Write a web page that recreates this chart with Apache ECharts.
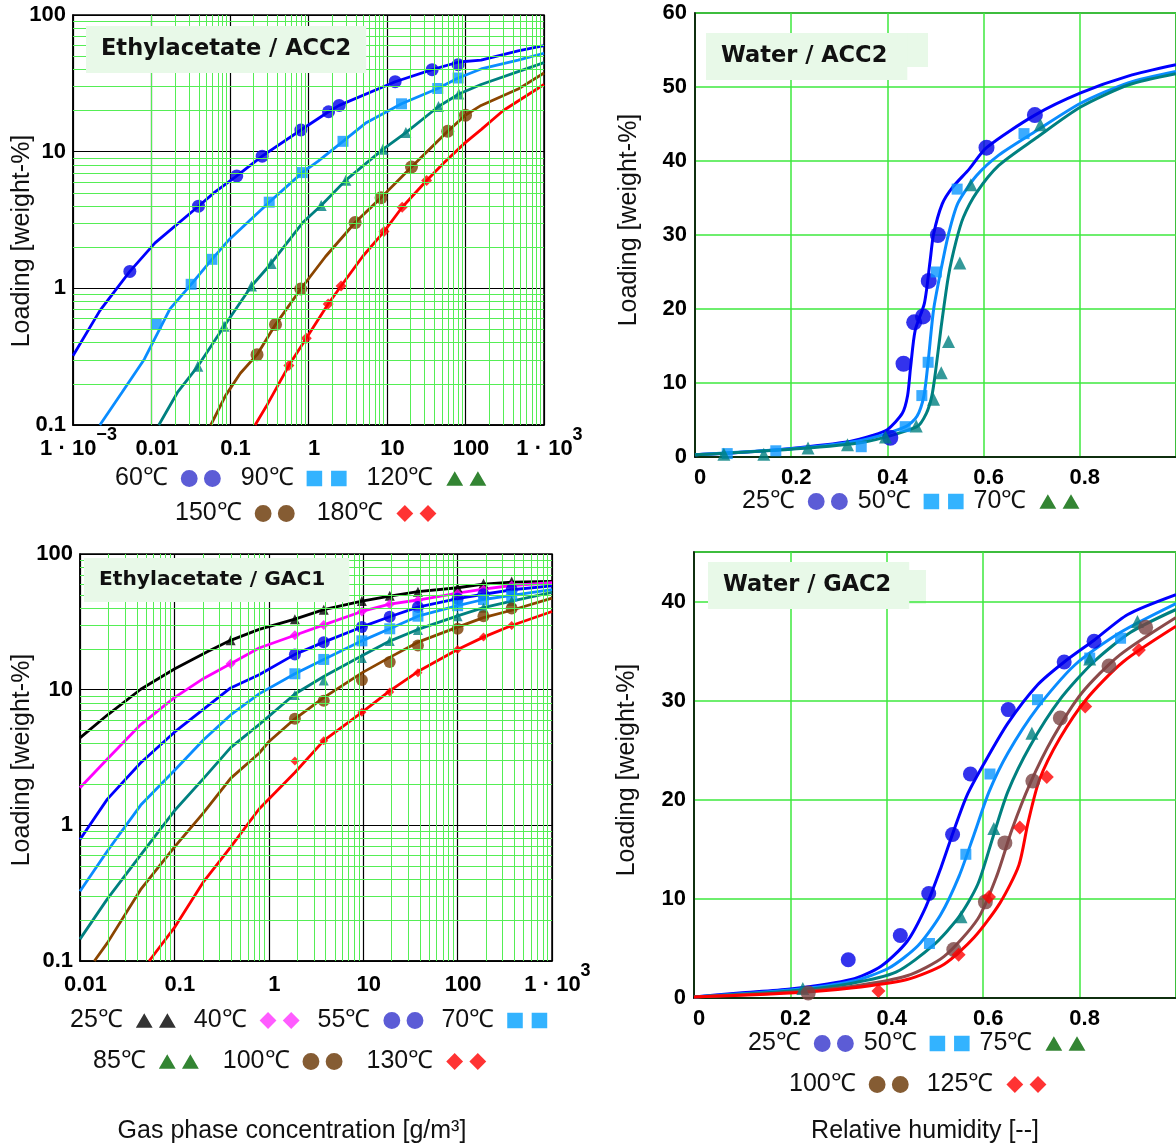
<!DOCTYPE html>
<html>
<head>
<meta charset="utf-8">
<script src="https://cdn.jsdelivr.net/npm/echarts@6/dist/echarts.min.js"></script>
<style>
  html, body { margin: 0; padding: 0; background: #fff; }
  #chart { width: 1176px; height: 1146px; }
</style>
</head>
<body>
<div id="chart"></div>
<script>
// ---- Ethylacetate / ACC2 (log-log) : [g/m3, weight-%]
const eaAcc60Pts = [[0.0053,1.33],[0.0397,3.99],[0.122,6.64],[0.257,9.27],[0.80,14.4],[1.80,19.6],[2.46,21.8],[12.7,32.5],[37.6,39.8],[80.5,43.3]];
const eaAcc60Fit = [[0.001,0.321],[0.0022,0.687],[0.0053,1.33],[0.0111,2.15],[0.0397,3.99],[0.0634,5.04],[0.122,6.64],[0.257,9.27],[0.80,14.4],[1.80,19.6],[2.46,21.8],[12.7,32.5],[37.6,39.8],[82,45.3],[158,46.7],[468,54.7],[1000,59.7]];
const eaAcc90Pts = [[0.0115,0.55],[0.032,1.07],[0.0588,1.63],[0.316,4.27],[0.832,7.03],[2.75,11.9],[15.3,22.4],[44.3,29.0],[80.5,34.6]];
const eaAcc90Fit = [[0.0022,0.1],[0.0042,0.173],[0.0081,0.303],[0.0172,0.708],[0.032,1.07],[0.0588,1.63],[0.098,2.28],[0.316,4.27],[0.832,7.03],[1.33,8.54],[2.75,11.9],[5.44,16.3],[15.3,22.4],[44.3,29.0],[80.5,34.6],[158,40.3],[468,46.7],[1000,52.5]];
const eaAcc120Pts = [[0.0389,0.269],[0.0841,0.528],[0.188,1.04],[0.334,1.52],[1.45,4.04],[2.99,6.19],[8.87,10.4],[17.4,13.8],[45.3,21.4],[82.2,26.4]];
const eaAcc120Fit = [[0.0124,0.1],[0.0214,0.173],[0.0389,0.269],[0.0841,0.528],[0.188,1.04],[0.334,1.52],[0.859,3.06],[1.45,4.04],[2.99,6.19],[8.87,10.4],[17.4,13.8],[45.3,21.4],[82.2,26.4],[158,31.0],[468,38.5],[1000,44.8]];
const eaAcc150Pts = [[0.221,0.327],[0.380,0.543],[0.796,0.989],[3.93,3.03],[8.41,4.61],[20.5,7.72],[59.4,14.1],[100,18.5]];
const eaAcc150Fit = [[0.0569,0.1],[0.0877,0.164],[0.1355,0.239],[0.221,0.327],[0.38,0.543],[0.796,0.989],[1.65,1.71],[3.93,3.03],[8.41,4.61],[20.5,7.72],[59.4,14.1],[100,18.5],[158,21.8],[468,28.7],[1000,37.6]];
const eaAcc180Pts = [[0.562,0.272],[0.937,0.431],[1.78,0.768],[2.60,1.04],[9.16,2.60],[15.6,3.92],[32.0,6.15]];
const eaAcc180Fit = [[0.209,0.1],[0.29,0.137],[0.562,0.272],[0.937,0.431],[1.78,0.768],[2.6,1.04],[4.89,1.71],[9.16,2.6],[15.6,3.92],[32,6.15],[53.2,8.29],[96.8,11.5],[158,14.5],[303,20],[1000,31.0]];

// ---- Water / ACC2 : [relative humidity, weight-%]
const wAcc25Pts = [[0.406,2.6],[0.4335,12.6],[0.4557,18.2],[0.474,19.0],[0.486,23.8],[0.505,30.0],[0.606,41.8],[0.7066,46.2]];
const wAcc25Fit = [[0,0.3],[0.09,0.6],[0.2,1.16],[0.322,2.1],[0.369,2.9],[0.4,3.7],[0.431,5.9],[0.442,8.3],[0.448,12.0],[0.4577,17.1],[0.477,20.8],[0.4886,26.4],[0.496,30.1],[0.514,34.2],[0.535,36.4],[0.57,38.9],[0.606,41.8],[0.7066,46.2],[0.8017,49.2],[0.902,51.5],[1.0,53.0]];
const wAcc50Pts = [[0.067,0.46],[0.168,0.84],[0.3456,1.39],[0.437,4.1],[0.4716,8.3],[0.4847,12.8],[0.5017,25.0],[0.545,36.2],[0.684,43.7]];
const wAcc50Fit = [[0,0.3],[0.2,1.1],[0.35,2.3],[0.438,4.1],[0.4615,5.5],[0.476,8.3],[0.4847,12.9],[0.496,19.9],[0.512,25.5],[0.527,30.1],[0.5466,34.3],[0.585,38.0],[0.6316,40.8],[0.709,44.05],[0.8017,47.8],[0.902,50.6],[1.0,52.1]];
const wAcc70Pts = [[0.06,0.37],[0.143,0.37],[0.235,1.2],[0.317,1.67],[0.396,2.7],[0.46,4.2],[0.496,7.8],[0.512,11.4],[0.527,15.6],[0.5505,26.2],[0.5736,36.8],[0.718,44.9]];
const wAcc70Fit = [[0,0.3],[0.2,1.05],[0.35,2.0],[0.4615,4.1],[0.481,5.9],[0.4925,8.3],[0.5,11.5],[0.5118,17.6],[0.527,24.5],[0.543,29.2],[0.558,32.4],[0.585,35.7],[0.6316,39.4],[0.709,43.1],[0.8017,47.3],[0.902,50.3],[1.0,51.8]];

// ---- Ethylacetate / GAC1 (log-log)
const eaGac25Pts = [[0.394,23.1],[1.89,33.1],[3.82,38.9],[9.68,45.0],[19.1,49.2],[38.0,52.8],[100,56.4],[188,60.5],[374,62.6]];
const eaGac25Fit = [[0.01,4.41],[0.0195,6.5],[0.044,10.07],[0.1,14.2],[0.223,19.05],[0.394,23.1],[0.789,27.8],[1.89,33.1],[3.82,38.9],[9.68,45.0],[19.1,48.9],[38,52.8],[100,56.4],[188,60.0],[374,62.0],[1000,62.8]];
const eaGac40Pts = [[0.394,15.5],[1.89,25.2],[3.82,30.0],[9.68,37.7],[19.1,42.7],[38.0,45.5],[100,51.0],[188,54.6],[374,58.6]];
const eaGac40Fit = [[0.01,1.89],[0.0195,3.08],[0.044,5.53],[0.1,8.73],[0.204,12.1],[0.394,15.5],[0.789,20.3],[1.89,25.2],[3.82,30.0],[9.68,37.7],[19.1,42.7],[38,45.8],[100,51.5],[188,55.0],[374,58.6],[1000,61.4]];
const eaGac55Pts = [[1.89,18.2],[3.82,22.4],[9.68,29.0],[19.1,34.5],[38.0,40.6],[100,46.8],[188,50.5],[374,54.5]];
const eaGac55Fit = [[0.01,0.786],[0.0195,1.56],[0.044,2.89],[0.1,4.86],[0.204,7.18],[0.394,10.3],[0.789,12.9],[1.89,18.2],[3.82,22.4],[9.68,29.0],[19.1,34.5],[38,40.6],[100,46.8],[188,50.5],[374,54.5],[1000,58.3]];
const eaGac70Pts = [[1.89,13.1],[3.82,16.7],[9.68,22.9],[19.1,28.1],[38.0,34.8],[100,41.6],[188,46.2],[374,49.0]];
const eaGac70Fit = [[0.01,0.327],[0.0195,0.647],[0.044,1.41],[0.1,2.54],[0.204,4.27],[0.394,6.51],[0.789,9.31],[1.89,13.1],[3.82,16.7],[9.68,22.9],[19.1,28.1],[38,34.8],[100,41.6],[188,46.2],[374,49.5],[1000,54.6]];
const eaGac85Pts = [[1.89,9.12],[3.82,11.7],[9.68,17.1],[19.1,22.8],[38.0,27.5],[100,34.8],[188,40.2],[374,45.0]];
const eaGac85Fit = [[0.01,0.145],[0.0195,0.287],[0.044,0.606],[0.1,1.28],[0.204,2.22],[0.394,3.74],[0.789,5.53],[1.89,9.3],[3.82,12.5],[9.68,17.8],[19.1,22.8],[38,27.8],[100,35],[188,40.2],[374,45],[1000,52.2]];
const eaGac100Pts = [[1.89,6.1],[3.82,8.28],[9.68,11.8],[19.1,16.0],[38.0,21.2],[100,28.1],[188,34.8],[374,39.6]];
const eaGac100Fit = [[0.0142,0.1],[0.0195,0.136],[0.044,0.337],[0.1,0.69],[0.204,1.24],[0.394,2.22],[0.789,3.4],[1,4.13],[1.89,6.1],[3.82,8.73],[9.68,13.3],[19.1,17.3],[38,22.4],[100,28.9],[188,34],[374,38.5],[1000,47.3]];
const eaGac130Pts = [[1.89,2.98],[3.82,4.21],[9.68,6.81],[19.1,9.62],[38.0,13.3],[100,19.8],[188,24.4],[374,29.7]];
const eaGac130Fit = [[0.054,0.1],[0.1,0.176],[0.204,0.385],[0.394,0.69],[0.789,1.32],[1.89,2.45],[3.82,4.21],[9.68,6.81],[19.1,9.8],[38,13.6],[100,19.8],[188,24.4],[374,29.7],[1000,37.7]];

// ---- Water / GAC2
const wGac25Pts = [[0.32,3.86],[0.428,6.3],[0.487,10.55],[0.5365,16.5],[0.5735,22.6],[0.652,29.1],[0.768,33.9],[0.83,36.0]];
const wGac25Fit = [[0,0.1],[0.094,0.5],[0.2,0.9],[0.326,1.86],[0.388,3.2],[0.442,5.7],[0.481,9.2],[0.512,13.1],[0.539,16.9],[0.566,20.4],[0.6,23.5],[0.651,27.7],[0.713,31.6],[0.768,33.9],[0.83,36.1],[0.9,38.7],[1.0,40.7]];
const wGac50Pts = [[0.4885,5.5],[0.564,14.5],[0.614,22.6],[0.7127,30.1],[0.821,34.3],[0.885,36.3]];
const wGac50Fit = [[0,0.1],[0.2,0.8],[0.326,1.66],[0.4035,3.0],[0.465,5.3],[0.5117,8.4],[0.55,12.3],[0.581,16.5],[0.612,20.8],[0.651,24.7],[0.7127,29.3],[0.79,33.6],[0.885,36.9],[1.0,39.8]];
const wGac75Pts = [[0.2257,0.97],[0.554,8.2],[0.622,17.1],[0.701,26.7],[0.821,34.2],[0.92,38.0]];
const wGac75Fit = [[0,0.1],[0.2,0.7],[0.326,1.47],[0.419,2.6],[0.496,5.3],[0.55,8.2],[0.589,11.5],[0.62,16.2],[0.651,20.8],[0.697,25.4],[0.759,30.1],[0.829,33.9],[0.906,36.9],[1.0,39.2]];
const wGac100Pts = [[0.237,0.5],[0.539,4.9],[0.6045,9.7],[0.645,15.65],[0.703,21.9],[0.76,28.25],[0.861,33.5],[0.937,37.4]];
const wGac100Fit = [[0,0.1],[0.2,0.58],[0.326,1.16],[0.442,2.24],[0.519,4.2],[0.589,8.0],[0.628,12.3],[0.659,16.9],[0.697,21.6],[0.744,26.2],[0.805,30.8],[0.883,34.6],[1.0,38.4]];
const wGac125Pts = [[0.3826,0.7],[0.549,4.37],[0.612,10.2],[0.676,17.2],[0.732,22.3],[0.8116,29.4],[0.923,35.1]];
const wGac125Fit = [[0,0.1],[0.2,0.5],[0.326,1.0],[0.442,1.86],[0.519,3.4],[0.581,6.1],[0.635,9.6],[0.674,13.4],[0.693,17.7],[0.7165,22.0],[0.759,26.2],[0.8133,30.1],[0.89,33.9],[1.0,37.5]];

// tick labels of the log axes
const logXLabels = { '-3': '{p|1 · 10}{s|−3}', '-2': '{p|0.01}', '-1': '{p|0.1}', '0': '{p|1}', '1': '{p|10}', '2': '{p|100}', '3': '{p|1 · 10}{s|3}' };
const logYLabels = { '-1': '0.1', '0': '1', '1': '10', '2': '100' };

const FONT = '"Liberation Sans", Arial, Helvetica, sans-serif';
const TITLE_FONT = '"DejaVu Sans", Verdana, sans-serif';
const GRID_GREEN = '#3ee83e';
const MINOR_GREEN = '#55ee55';

// legend icons: two symbols side by side
const ICON = {
  circle: 'path://M0,8a8,8 0 1,0 16,0a8,8 0 1,0 -16,0M22,8a8,8 0 1,0 16,0a8,8 0 1,0 -16,0',
  rect: 'path://M1,1h14v14h-14zM23,1h14v14h-14z',
  triangle: 'path://M8,1L16,15H0zM30,1L38,15H22z',
  diamond: 'path://M8,0L16,8L8,16L0,8zM30,0L38,8L30,16L22,8z'
};

const chart = echarts.init(document.getElementById('chart'), null, { renderer: 'canvas' });

const series = [];
function fit(data, color, idx, width, smooth) {
  series.push({
    type: 'line', name: '_fit', data, xAxisIndex: idx, yAxisIndex: idx,
    showSymbol: false, symbol: 'none', smooth: smooth || false,
    lineStyle: { color, width: width || 2.8 }, silent: true, z: 3
  });
}
function pts(name, data, color, symbol, size, idx) {
  series.push({
    type: 'scatter', name, data, xAxisIndex: idx, yAxisIndex: idx,
    symbol, symbolSize: size, itemStyle: { color, borderWidth: 0 }, z: 4
  });
}
// minor grid lines of the log-log panels
function minorGrid(idx, xDecades, yDecades) {
  const lines = [];
  xDecades.forEach(d => { for (let k = 2; k <= 9; k++) lines.push({ xAxis: k * d }); });
  yDecades.forEach(d => { for (let k = 2; k <= 9; k++) lines.push({ yAxis: k * d }); });
  series.push({
    type: 'line', name: '_grid', data: [[1, 1]], xAxisIndex: idx, yAxisIndex: idx,
    symbol: 'none', lineStyle: { opacity: 0 }, silent: true, z: 1,
    markLine: {
      silent: true, symbol: ['none', 'none'], animation: false,
      label: { show: false },
      lineStyle: { color: MINOR_GREEN, width: 1, type: 'solid' },
      emphasis: { disabled: true },
      data: lines
    }
  });
}

// panel 0: Ethylacetate / ACC2
minorGrid(0, [0.001, 0.01, 0.1, 1, 10, 100], [0.1, 1, 10]);
fit(eaAcc60Fit, '#0000ff', 0); pts('60℃', eaAcc60Pts, '#0000e8', 'circle', 13, 0);
fit(eaAcc90Fit, '#0a8cff', 0); pts('90℃', eaAcc90Pts, '#0a96ff', 'rect', 11, 0);
fit(eaAcc120Fit, '#008080', 0); pts('120℃', eaAcc120Pts, '#008080', 'triangle', 11, 0);
fit(eaAcc150Fit, '#8b4500', 0); pts('150℃', eaAcc150Pts, '#7a3c00', 'circle', 13, 0);
fit(eaAcc180Fit, '#ff0000', 0); pts('180℃', eaAcc180Pts, '#ff0000', 'diamond', 11, 0);

// panel 1: Water / ACC2
fit(wAcc25Fit, '#0000ff', 1, 3, 0.25); pts('25℃', wAcc25Pts, '#0000e8', 'circle', 16, 1);
fit(wAcc50Fit, '#0a8cff', 1, 3, 0.25); pts('50℃', wAcc50Pts, '#0a96ff', 'rect', 11, 1);
fit(wAcc70Fit, '#008080', 1, 3, 0.25); pts('70℃', wAcc70Pts, '#008080', 'triangle', 13, 1);

// panel 2: Ethylacetate / GAC1
minorGrid(2, [0.01, 0.1, 1, 10, 100], [0.1, 1, 10]);
fit(eaGac25Fit, '#000000', 2); pts('25℃', eaGac25Pts, '#000000', 'triangle', 10, 2);
fit(eaGac40Fit, '#ff00ff', 2); pts('40℃', eaGac40Pts, '#ff00ff', 'diamond', 10, 2);
fit(eaGac55Fit, '#0000ff', 2); pts('55℃', eaGac55Pts, '#0000e8', 'circle', 12, 2);
fit(eaGac70Fit, '#0a8cff', 2); pts('70℃', eaGac70Pts, '#0a96ff', 'rect', 11, 2);
fit(eaGac85Fit, '#008080', 2); pts('85℃', eaGac85Pts, '#008080', 'triangle', 10, 2);
fit(eaGac100Fit, '#8b4500', 2); pts('100℃', eaGac100Pts, '#7a3c00', 'circle', 12, 2);
fit(eaGac130Fit, '#ff0000', 2); pts('130℃', eaGac130Pts, '#ff0000', 'diamond', 9, 2);

// panel 3: Water / GAC2
fit(wGac25Fit, '#0000ff', 3, 3, 0.25); pts('25℃', wGac25Pts, '#0000e8', 'circle', 15, 3);
fit(wGac50Fit, '#0a8cff', 3, 3, 0.25); pts('50℃', wGac50Pts, '#0a96ff', 'rect', 11, 3);
fit(wGac75Fit, '#008080', 3, 3, 0.25); pts('75℃', wGac75Pts, '#008080', 'triangle', 13, 3);
fit(wGac100Fit, '#8b4a4a', 3, 3, 0.25); pts('100℃', wGac100Pts, '#7b4444', 'circle', 15, 3);
fit(wGac125Fit, '#ff0000', 3, 3, 0.25); pts('125℃', wGac125Pts, '#ff0000', 'diamond', 14, 3);

const boldLabel = { fontSize: 22, fontWeight: 'bold', color: '#000', fontFamily: FONT };
const axisLineStyle = { show: true, onZero: false, lineStyle: { color: '#000', width: 1.5 } };

function logX(min, max, split, gridIndex) {
  return {
    type: 'log', logBase: 10, min, max, splitNumber: split, gridIndex,
    axisLine: axisLineStyle, axisTick: { show: false },
    splitLine: { show: true, lineStyle: { color: '#000', width: 1.2 } },
    axisLabel: Object.assign({}, boldLabel, {
      margin: 1,
      padding: [0, 0, 0, 11],
      formatter: v => logXLabels[String(Math.round(Math.log10(v)))] || '',
      rich: {
        p: { fontSize: 22, fontWeight: 'bold', fontFamily: FONT, color: '#000', lineHeight: 34, verticalAlign: 'bottom' },
        s: { fontSize: 18, fontWeight: 'bold', fontFamily: FONT, color: '#000', lineHeight: 18, verticalAlign: 'top' }
      }
    })
  };
}
function logY(min, max, split, gridIndex) {
  return {
    type: 'log', logBase: 10, min, max, splitNumber: split, gridIndex,
    axisLine: axisLineStyle, axisTick: { show: false },
    splitLine: { show: true, lineStyle: { color: '#000', width: 1.2 } },
    axisLabel: Object.assign({}, boldLabel, {
      margin: 7,
      formatter: v => logYLabels[String(Math.round(Math.log10(v)))] || ''
    })
  };
}
function linAxis(min, max, interval, gridIndex, isX) {
  return {
    type: 'value', min, max, interval, gridIndex,
    axisLine: axisLineStyle, axisTick: { show: false },
    splitLine: { show: true, lineStyle: { color: GRID_GREEN, width: 1.5 } },
    axisLabel: Object.assign({}, boldLabel, {
      margin: isX ? 10 : 8,
      padding: isX ? [0, 0, 0, 10] : 0,
      showMaxLabel: !isX && max % interval === 0
    })
  };
}

function legend(left, top, gap, items) {
  return {
    left, top, itemGap: gap, padding: 0, align: 'right', selectedMode: false,
    itemWidth: 40, itemHeight: 17,
    textStyle: { fontSize: 25, color: '#111', fontFamily: FONT, padding: [0, 8, 0, 0] },
    data: items.map(([name, icon, color]) => ({ name, icon: ICON[icon], itemStyle: { color, borderWidth: 0 } }))
  };
}

function titleBox(text, left, top, size, padRight) {
  return {
    text, left, top, padding: [12, padRight || 15, 12, 15], backgroundColor: '#e8f9e8',
    textStyle: { fontSize: size, fontWeight: 'bold', color: '#111', fontFamily: TITLE_FONT }
  };
}

function vText(text, x, y) {
  return {
    type: 'text', x, y, rotation: Math.PI / 2, silent: true,
    style: { text, fontSize: 25, fontFamily: FONT, fill: '#111', align: 'center', verticalAlign: 'middle' }
  };
}
function hText(text, x, y) {
  return {
    type: 'text', x, y, silent: true,
    style: { text, fontSize: 25, fontFamily: FONT, fill: '#111', align: 'center', verticalAlign: 'middle' }
  };
}

const option = {
  animation: false,
  backgroundColor: '#fff',
  grid: [
    { left: 73, top: 15, width: 471, height: 410, show: true, borderColor: '#000', borderWidth: 1.5 },
    { left: 695, top: 13, width: 485, height: 444, show: true, borderColor: '#000', borderWidth: 1.5 },
    { left: 80, top: 554, width: 472, height: 407, show: true, borderColor: '#000', borderWidth: 1.5 },
    { left: 694, top: 552, width: 485, height: 446, show: true, borderColor: '#000', borderWidth: 1.5 }
  ],
  xAxis: [
    logX(0.001, 1000, 6, 0),
    linAxis(0, 1, 0.2, 1, true),
    logX(0.01, 1000, 5, 2),
    linAxis(0, 1, 0.2, 3, true)
  ],
  yAxis: [
    logY(0.1, 100, 3, 0),
    linAxis(0, 60, 10, 1, false),
    logY(0.1, 100, 3, 2),
    linAxis(0, 45, 10, 3, false)
  ],
  title: [
    titleBox('Ethylacetate / ACC2', 86, 26, 22.5),
    titleBox('Water / ACC2', 706, 33, 22.5, 20),
    titleBox('Ethylacetate / GAC1', 84, 558, 20.2, 24),
    titleBox('Water / GAC2', 708, 562, 22.5, 18)
  ],
  legend: [
    legend(115, 466, 20, [['60℃', 'circle', '#3333cc'], ['90℃', 'rect', '#00a0ff'], ['120℃', 'triangle', '#006600']]),
    legend(175, 501, 22, [['150℃', 'circle', '#663300'], ['180℃', 'diamond', '#ff0000']]),
    legend(742, 489, 10, [['25℃', 'circle', '#3333cc'], ['50℃', 'rect', '#00a0ff'], ['70℃', 'triangle', '#006600']]),
    legend(70, 1008, 18, [['25℃', 'triangle', '#000000'], ['40℃', 'diamond', '#ff33ff'], ['55℃', 'circle', '#3333cc'], ['70℃', 'rect', '#00a0ff']]),
    legend(93, 1049, 24, [['85℃', 'triangle', '#006600'], ['100℃', 'circle', '#663300'], ['130℃', 'diamond', '#ff0000']]),
    legend(748, 1031, 10, [['25℃', 'circle', '#3333cc'], ['50℃', 'rect', '#00a0ff'], ['75℃', 'triangle', '#006600']]),
    legend(789, 1072, 18, [['100℃', 'circle', '#663300'], ['125℃', 'diamond', '#ff0000']])
  ],
  graphic: [
    { type: 'rect', shape: { x: 900, y: 33, width: 28, height: 34 }, style: { fill: '#e8f9e8' }, silent: true, z: -1 },
    { type: 'rect', shape: { x: 900, y: 570, width: 26, height: 34 }, style: { fill: '#e8f9e8' }, silent: true, z: -1 },
    vText('Loading [weight-%]', 22, 241),
    vText('Loading [weight-%]', 629, 220),
    vText('Loading [weight-%]', 22, 760),
    vText('Loading [weight-%]', 627, 770),
    hText('Gas phase concentration [g/m³]', 292, 1131),
    hText('Relative humidity [--]', 925, 1131)
  ],
  series
};

chart.setOption(option);
</script>
</body>
</html>
